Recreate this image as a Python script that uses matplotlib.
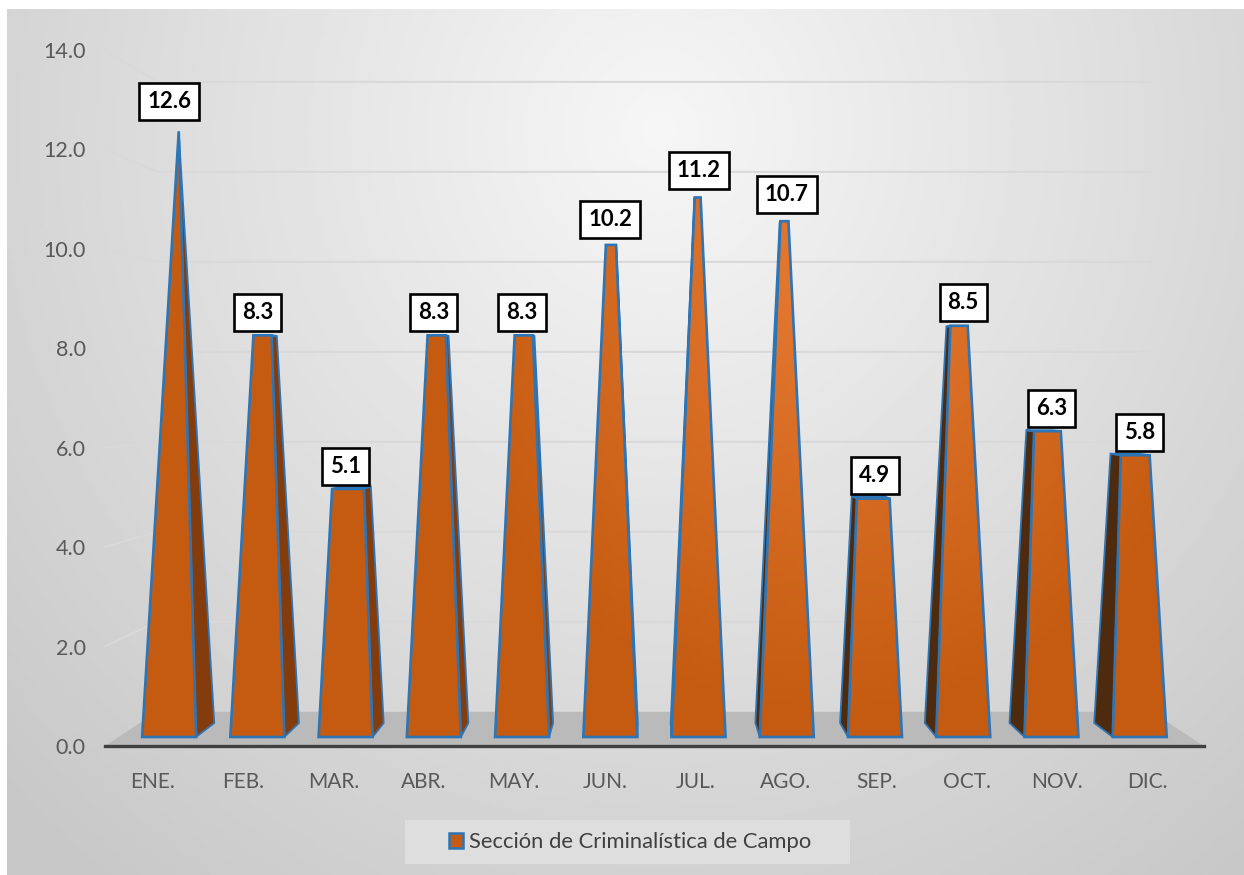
import numpy as np
import matplotlib
matplotlib.use("Agg")
import matplotlib.pyplot as plt
from matplotlib.colors import LinearSegmentedColormap
from matplotlib.patches import Patch, Polygon, Rectangle

months = ["ENE.", "FEB.", "MAR.", "ABR.", "MAY.", "JUN.", "JUL.", "AGO.", "SEP.", "OCT.", "NOV.", "DIC."]
values = [12.6, 8.3, 5.1, 8.3, 8.3, 10.2, 11.2, 10.7, 4.9, 8.5, 6.3, 5.8]
y_ticks = [0, 2, 4, 6, 8, 10, 12, 14]
series_name = "Sección de Criminalística de Campo"

W, H = 1244, 875
plt.rcParams["font.family"] = ["Lato", "DejaVu Sans"]

# perspective of the fake 3d box
MID_X, MID_V = 5.5, 7.24
S_FRONT, S_BACK, S_WALL = 0.975, 0.936, 0.905
BAR_SHIFT = 0.05
HALF_W = 0.306


def project(x, v, s):
    return MID_X + (x - MID_X) * s, MID_V + (v - MID_V) * s


def px_axes(fig, x0, y0, x1, y1, **kw):
    # pixel box, y measured from the top of the picture
    return fig.add_axes([x0 / W, 1 - y1 / H, (x1 - x0) / W, (y1 - y0) / H], **kw)


def bar_corners(i, v, s):
    # pyramid cut at v, the top square shrinks towards the middle of the depth
    c = i + BAR_SHIFT
    frac = v / max(values)
    hw = HALF_W * (1 - frac)
    s_top = s + ((S_FRONT + S_BACK) / 2 - s) * frac
    left = project(c - HALF_W, 0, s)
    right = project(c + HALF_W, 0, s)
    top_l = project(c - hw, v, s_top)
    top_r = project(c + hw, v, s_top)
    return left, right, top_r, top_l


fig = plt.figure(figsize=(W / 100, H / 100), dpi=100, facecolor="white")

# background gradient
bg = px_axes(fig, 7, 9, W, H, zorder=0)
yy, xx = np.mgrid[9:H:400j, 7:W:500j]
dist = np.hypot((xx - 660) / 900, (yy - 130) / 950)
bg.imshow(246 - 46 * np.clip(dist, 0, 1), cmap="gray", vmin=0, vmax=255, aspect="auto")
bg.axis("off")

ax = px_axes(fig, 105, 50, 1204, 746, zorder=1)
ax.patch.set_alpha(0)
ax.set_xlim((105 - 650) / 90.5 + MID_X, (1204 - 650) / 90.5 + MID_X)
ax.set_ylim(0, 14)
x_min, x_max = ax.get_xlim()

# floor
floor = [(x_min, 0), (x_max, 0), project(x_max, 0, S_WALL), project(x_min, 0, S_WALL)]
ax.add_patch(Polygon(floor, closed=True, fc="#BABABA", ec="none", zorder=2))

# gridlines, slanted on the left wall then along the back wall
for t in y_ticks[1:]:
    bx, by = project(x_min, t, S_WALL)
    ex, ey = project(x_max, t, S_WALL)
    ax.plot([x_min, bx, ex], [t, by, ey], color="#D9D9D9", lw=1.5, zorder=1, clip_on=False)

orange = LinearSegmentedColormap.from_list("bar", ["#C55A11", "#E67A32"])
gy, gx = np.mgrid[14:0:120j, x_min:x_max:240j]
glow = np.clip(1 - np.hypot((gx - 7.5) / 4.5, (gy - 9.5) / 9), 0, 1)

for i, v in enumerate(values):
    front = bar_corners(i, v, S_FRONT)
    back = bar_corners(i, v, S_BACK)
    if i + BAR_SHIFT < MID_X:
        side = [front[1], back[1], back[2], front[2]]
        side_c = "#843C0C"
    else:
        side = [front[0], back[0], back[3], front[3]]
        side_c = "#4E2A0E"
    ax.add_patch(Polygon(side, closed=True, fc=side_c, ec="#2E75B6", lw=1.3, zorder=3))
    # top square, only a thin sliver seen from the camera
    ax.add_patch(Polygon([front[2], front[3], back[3], back[2]], closed=True, fc="#2E75B6",
                         ec="#2E75B6", lw=1.3, zorder=3))
    face = Polygon(front, closed=True, fc="none", ec="#2E75B6", lw=1.9, zorder=5)
    ax.add_patch(face)
    im = ax.imshow(glow, cmap=orange, vmin=0, vmax=1, extent=(x_min, x_max, 0, 14),
                   aspect="auto", zorder=4)
    im.set_clip_path(face)
    label_x = project(i + BAR_SHIFT, 0, S_FRONT)[0]
    off = 16.5 + max(0, v - 8.3) * 1.1
    ax.annotate(f"{v:.1f}", xy=(label_x, front[2][1]), xytext=(0, off), textcoords="offset points",
                ha="center", va="center", fontsize=16, fontweight="bold", color="black", zorder=7,
                bbox=dict(boxstyle="square,pad=0.36", fc="white", ec="black", lw=1.9))

ax.set_xlim(x_min, x_max)
ax.set_ylim(0, 14)
for name in ["top", "left", "right"]:
    ax.spines[name].set_visible(False)
ax.spines["bottom"].set_color("#404040")
ax.spines["bottom"].set_linewidth(2.4)
ax.spines["bottom"].set_zorder(6)
ax.set_xticks(range(len(months)))
ax.set_xticklabels(months)
ax.set_yticks(y_ticks)
ax.set_yticklabels([f"{t:.1f}" for t in y_ticks])
ax.tick_params(axis="x", length=0, pad=19, labelsize=15, labelcolor="#595959")
ax.tick_params(axis="y", length=0, pad=14, labelsize=15.5, labelcolor="#595959")

# legend
fig.add_artist(Rectangle((405 / W, 1 - 864 / H), 445 / W, 44 / H, transform=fig.transFigure,
                         fc="#DEDEDE", ec="none", zorder=1.5))
handle = Patch(fc="#C55A11", ec="#2E75B6", lw=1.8)
fig.legend([handle], [series_name], loc="center", bbox_to_anchor=(630 / W, 1 - 842 / H),
           frameon=False, fontsize=15.8, labelcolor="#404040", handlelength=0.65, handleheight=0.65,
           handletextpad=0.25)

fig.savefig("out.png", dpi=100)
